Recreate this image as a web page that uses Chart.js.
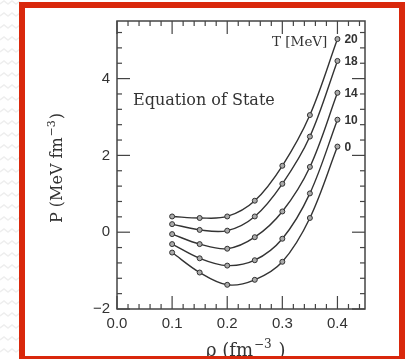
<!DOCTYPE html>
<html>
<head>
<meta charset="utf-8">
<script src="https://cdn.jsdelivr.net/npm/chart.js@4.4.1/dist/chart.umd.min.js"></script>
<style>
  html, body { margin: 0; padding: 0; background: #fff; }
  canvas { display: block; }
</style>
</head>
<body>
<canvas id="eos-chart" width="409" height="359"></canvas>
<script>
'use strict';

// ******DATA******
let densities = [0.1, 0.15, 0.2, 0.25, 0.3, 0.35, 0.4];

let tempLabels = ['20', '18', '14', '10', '0'];

let pressureT20 = [0.41, 0.37, 0.41, 0.82, 1.73, 3.05, 5.03];
let pressureT18 = [0.21, 0.06, 0.04, 0.41, 1.26, 2.49, 4.46];
let pressureT14 = [-0.05, -0.31, -0.43, -0.13, 0.54, 1.70, 3.63];
let pressureT10 = [-0.31, -0.68, -0.87, -0.73, -0.17, 1.01, 2.93];
let pressureT0 = [-0.53, -1.05, -1.37, -1.24, -0.77, 0.37, 2.23];

let seriesList = [pressureT20, pressureT18, pressureT14, pressureT10, pressureT0];

// axis ranges and tick steps
let xMin = 0, xMax = 0.45, xMajor = 0.1, xMinor = 0.02;
let yMin = -2, yMax = 5.5, yMajor = 2, yMinor = 0.4;

let inkColor = '#333';
let redColor = '#d9280c';

// ******HELPERS******
function line(ctx, x1, y1, x2, y2) {
  ctx.beginPath();
  ctx.moveTo(x1, y1);
  ctx.lineTo(x2, y2);
  ctx.stroke();
}

function isMultiple(v, step) {
  let r = v / step;
  return Math.abs(r - Math.round(r)) < 1e-6;
}

// text with a raised exponent: base, sup, tail
function supText(ctx, x, y, base, sup, tail, size, supSize) {
  ctx.font = size + 'px "DejaVu Serif"';
  ctx.fillText(base, x, y);
  x += ctx.measureText(base).width + 1;
  ctx.font = supSize + 'px "DejaVu Serif"';
  ctx.fillText(sup, x, y - size * 0.45);
  x += ctx.measureText(sup).width + 1;
  ctx.font = size + 'px "DejaVu Serif"';
  ctx.fillText(tail, x, y);
  return x + ctx.measureText(tail).width;
}

function textWidth(ctx, base, sup, tail, size, supSize) {
  ctx.font = size + 'px "DejaVu Serif"';
  let w = ctx.measureText(base).width + ctx.measureText(tail).width + 2;
  ctx.font = supSize + 'px "DejaVu Serif"';
  return w + ctx.measureText(sup).width;
}

// ******PLUGIN: frame, inward ticks, labels, slide border******
let framePlugin = {
  id: 'frame',
  beforeDraw(chart) {
    let ctx = chart.ctx;
    ctx.save();
    ctx.fillStyle = '#fff';
    ctx.fillRect(0, 0, chart.width, chart.height);
    // faint zigzag pattern of the slide background
    ctx.strokeStyle = '#eeeeee';
    ctx.lineWidth = 1.5;
    for (let row = 4; row < chart.height; row += 12) {
      ctx.beginPath();
      for (let px = 0; px <= 20; px += 4) {
        let py = row + ((px / 4) % 2 === 0 ? 0 : -3);
        if (px === 0) ctx.moveTo(px, py); else ctx.lineTo(px, py);
      }
      ctx.stroke();
    }
    ctx.restore();
  },
  afterDraw(chart) {
    let ctx = chart.ctx;
    let a = chart.chartArea;
    let xs = chart.scales.x;
    let ys = chart.scales.y;
    ctx.save();

    // frame
    ctx.strokeStyle = '#444';
    ctx.lineWidth = 1.5;
    ctx.strokeRect(a.left, a.top, a.right - a.left, a.bottom - a.top);

    // inward ticks on all four sides
    ctx.lineWidth = 1.2;
    for (let v = xMin; v <= xMax + 1e-9; v += xMinor) {
      let px = xs.getPixelForValue(v);
      let len = isMultiple(v, xMajor) ? 13 : 5;
      line(ctx, px, a.bottom, px, a.bottom - len);
      line(ctx, px, a.top, px, a.top + len);
    }
    for (let v = yMin; v <= yMax + 1e-9; v += yMinor) {
      let py = ys.getPixelForValue(v);
      let len = isMultiple(v, yMajor) ? 13 : 5;
      line(ctx, a.left, py, a.left + len, py);
      line(ctx, a.right, py, a.right - len, py);
    }

    // temperature labels next to the last points
    ctx.fillStyle = inkColor;
    ctx.font = 'bold 12px "Liberation Sans"';
    ctx.textBaseline = 'middle';
    ctx.textAlign = 'left';
    chart.data.datasets.forEach(function (ds, i) {
      let meta = chart.getDatasetMeta(i);
      let last = meta.data[meta.data.length - 1];
      ctx.fillText(tempLabels[i], last.x + 7, last.y + 1);
    });

    // legend title and chart note
    ctx.textBaseline = 'alphabetic';
    ctx.font = '13.5px "DejaVu Serif"';
    ctx.fillText('T [MeV]', 272, 46);
    ctx.font = '16px "DejaVu Serif"';
    ctx.fillText('Equation of State', 133, 105);

    // y axis title, rotated
    ctx.save();
    ctx.translate(62, 168);
    ctx.rotate(-Math.PI / 2);
    let yw = textWidth(ctx, 'P (MeV fm', '\u22123', ')', 16, 11);
    supText(ctx, -yw / 2, 0, 'P (MeV fm', '\u22123', ')', 16, 11);
    ctx.restore();

    // x axis title (partly under the slide border)
    supText(ctx, 206, 356, '\u03c1 (fm', '\u22123', ' )', 18, 12);

    // red slide border
    ctx.strokeStyle = redColor;
    ctx.lineWidth = 6;
    ctx.strokeRect(22, 5, 380, 354);
    ctx.restore();
  }
};

// ******CHART******
let canvasElem = document.getElementById('eos-chart').getContext('2d');

let datasets = [];
for (let i = 0; i < seriesList.length; i++) {
  datasets.push({
    label: 'T = ' + tempLabels[i] + ' MeV',
    data: densities.map(function (d, j) { return { x: d, y: seriesList[i][j] }; }),
    borderColor: inkColor,
    borderWidth: 1.4,
    backgroundColor: '#aaa',
    pointBorderColor: inkColor,
    pointBorderWidth: 1,
    pointRadius: 2.5,
    tension: 0.35,
    fill: false
  });
}

let myChartObj = {
  type: 'scatter',
  data: { datasets: datasets },
  options: {
    responsive: false,
    animation: false,
    showLine: true,
    layout: { padding: { top: 21, right: 44, left: 0, bottom: 0 } },
    plugins: {
      legend: { display: false },
      tooltip: { enabled: false }
    },
    scales: {
      x: {
        type: 'linear',
        min: xMin,
        max: xMax,
        grid: { display: false, drawTicks: false },
        border: { display: false },
        afterFit: function (scale) { scale.height = 50; },
        ticks: {
          stepSize: xMajor,
          includeBounds: false,
          padding: 6,
          color: inkColor,
          font: { family: 'Liberation Sans', size: 15 },
          maxRotation: 0,
          callback: function (v) { return v.toFixed(1); }
        }
      },
      y: {
        type: 'linear',
        min: yMin,
        max: yMax,
        grid: { display: false, drawTicks: false },
        border: { display: false },
        afterFit: function (scale) { scale.width = 117; },
        ticks: {
          stepSize: yMajor,
          includeBounds: false,
          padding: 7,
          color: inkColor,
          font: { family: 'Liberation Sans', size: 15 },
          callback: function (v) { return String(v).replace('-', '\u2212'); }
        }
      }
    }
  },
  plugins: [framePlugin]
};

new Chart(canvasElem, myChartObj);
</script>
</body>
</html>
